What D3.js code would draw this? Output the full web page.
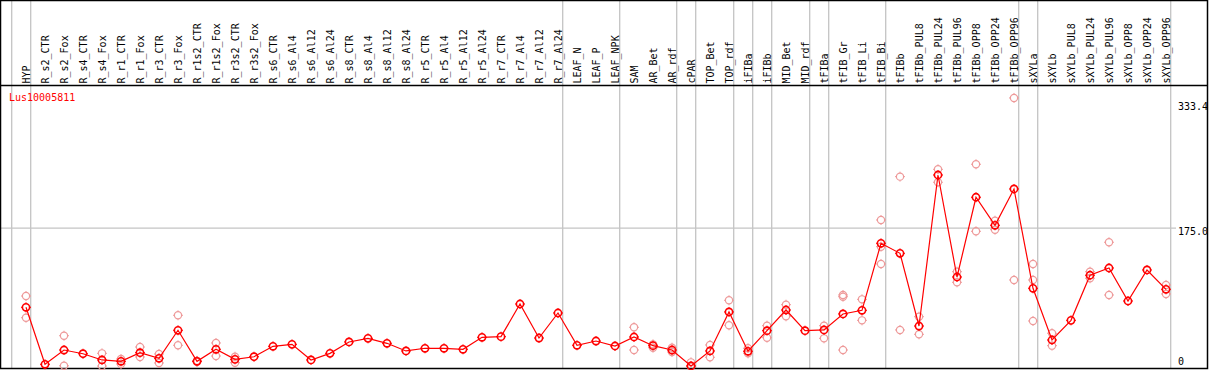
<!DOCTYPE html>
<html><head><meta charset="utf-8">
<script src="https://cdn.jsdelivr.net/npm/d3@7/dist/d3.min.js"></script>
<style>body{margin:0;background:#fff}svg{display:block}</style>
</head><body>
<svg id="c" width="1209" height="370"></svg>
<script>
const title = "Lus10005811";
const categories = ["HYP","R_s2_CTR","R_s2_Fox","R_s4_CTR","R_s4_Fox","R_r1_CTR","R_r1_Fox","R_r3_CTR","R_r3_Fox","R_r1s2_CTR","R_r1s2_Fox","R_r3s2_CTR","R_r3s2_Fox","R_s6_CTR","R_s6_Al4","R_s6_Al12","R_s6_Al24","R_s8_CTR","R_s8_Al4","R_s8_Al12","R_s8_Al24","R_r5_CTR","R_r5_Al4","R_r5_Al12","R_r5_Al24","R_r7_CTR","R_r7_Al4","R_r7_Al12","R_r7_Al24","LEAF_N","LEAF_P","LEAF_NPK","SAM","AR_Bet","AR_rdf","cPAR","TOP_Bet","TOP_rdf","iFIBa","iFIBb","MID_Bet","MID_rdf","tFIBa","tFIB_Gr","tFIB_Li","tFIB_Bi","tFIBb","tFIBb_PUL8","tFIBb_PUL24","tFIBb_PUL96","tFIBb_OPP8","tFIBb_OPP24","tFIBb_OPP96","sXYLa","sXYLb","sXYLb_PUL8","sXYLb_PUL24","sXYLb_PUL96","sXYLb_OPP8","sXYLb_OPP24","sXYLb_OPP96"];
const means = [74.6,2.4,20.5,15.8,7.9,6.2,17.1,10.0,45.5,6.2,21.4,8.7,12.0,25.2,27.7,7.9,16.3,30.7,35.3,29.0,19.3,22.7,22.7,21.4,36.6,37.4,78.8,35.7,67.4,26.5,31.9,25.6,37.0,26.0,20.5,0.3,19.3,68.7,18.9,45.0,71.2,45.0,45.9,66.2,70.8,155.7,143.0,50.9,242.2,113.0,214.0,178.5,224.5,98.7,33.2,58.1,115.2,124.4,82.6,121.9,97.4];
const replicates = [[88.9,61.4],[],[38.6,0.5],[],[16.3,0.2],[9.1,2.8],[24.3,11.7],[15.5,4.1],[64.5,26.5],[5.6,6.8],[29.4,12.9],[12.0,4.4],[],[],[],[],[],[],[],[],[],[],[],[],[],[],[],[],[],[],[],[],[49.3,20.5],[27.7,23.4],[23.4,18.0],[4.9,0.0],[26.9,11.3],[83.5,51.8],[22.7,16.3],[51.3,36.1],[77.9,63.2],[],[51.3,35.3],[90.2,88.0,20.5],[84.7,58.1],[185.2,151.4,129.5],[240.1,45.9],[62.7,40.4],[249.4,233.0],[119.7,106.3],[255.8,170.9],[184.3,172.9],[339.8,109.2],[129.5,109.2,57.3],[41.7,26.0],[],[119.7,111.4],[157.0,90.2],[],[],[102.9,91.5]];
const boundaries = [-1,0,28,31,34,35,37,38,39,41,42,45,52,53,60];
const yTicks = [0,175.0,333.4];
const yTickLabels = ["0","175.0","333.4"];

const svg = d3.select("#c");
const font = "'DejaVu Sans Mono', monospace";
const x = d3.scalePoint().domain(categories).range([26,1166]);
const y = d3.scaleLinear().domain([0,333.4]).range([366.2,103.0]);
const step = x.step();

// group separator lines
svg.append("g").selectAll("line").data(boundaries).join("line")
  .attr("x1", b => (b < 0 ? x(categories[0]) - step : x(categories[b])) + 4.7)
  .attr("x2", b => (b < 0 ? x(categories[0]) - step : x(categories[b])) + 4.7)
  .attr("y1", 0).attr("y2", 369)
  .attr("stroke", "#c4c4c4").attr("stroke-width", 1.3);

// horizontal gridline at middle tick
svg.append("line").attr("x1",1).attr("x2",1176)
  .attr("y1", y(yTicks[1])).attr("y2", y(yTicks[1]))
  .attr("stroke","#c4c4c4").attr("stroke-width",1.3);

// header labels
svg.append("g").selectAll("text").data(categories).join("text")
  .attr("transform", d => `translate(${x(d)+4},83.5) rotate(-90)`)
  .attr("font-family", font).attr("font-size", "10px").attr("fill","#000")
  .text(d => d);

// frame and header separator
svg.append("rect").attr("x",0.5).attr("y",0.5).attr("width",1207).attr("height",368)
  .attr("fill","none").attr("stroke","#000").attr("stroke-width",1.5);
svg.append("line").attr("x1",0).attr("x2",1208).attr("y1",85.5).attr("y2",85.5)
  .attr("stroke","#000").attr("stroke-width",1.5);

// title
svg.append("text").attr("x",9).attr("y",101).attr("font-family",font)
  .attr("font-size","10px").attr("fill","#ff0000").text(title);

// right axis labels
svg.append("g").selectAll("text").data(yTicks).join("text")
  .attr("x",1178)
  .attr("y", v => Math.min(y(v)+7, y(0)-1))
  .attr("font-family",font).attr("font-size","10px").attr("fill","#000")
  .text((v,i) => yTickLabels[i]);

function marker(g, cx, cy, color, sw) {
  g.append("circle").attr("cx",cx).attr("cy",cy).attr("r",3.6)
    .attr("fill","none").attr("stroke",color).attr("stroke-width",sw);
  [[0,-1],[0,1],[-1,0],[1,0]].forEach(([dx,dy]) => {
    g.append("line").attr("x1",cx+dx*3.6).attr("y1",cy+dy*3.6)
      .attr("x2",cx+dx*5).attr("y2",cy+dy*5)
      .attr("stroke",color).attr("stroke-width",1);
  });
}

// replicates
const repG = svg.append("g");
replicates.forEach((arr,i) => arr.forEach(v => marker(repG, x(categories[i]), y(v), "#ee9a9a", 1.2)));

// mean line
svg.append("path").datum(means)
  .attr("d", d3.line().x((d,i) => x(categories[i])).y(d => y(d)))
  .attr("fill","none").attr("stroke","#ff0000").attr("stroke-width",1.2);

const meanG = svg.append("g");
means.forEach((v,i) => marker(meanG, x(categories[i]), y(v), "#ff0000", 1.6));
</script>
</body></html>
